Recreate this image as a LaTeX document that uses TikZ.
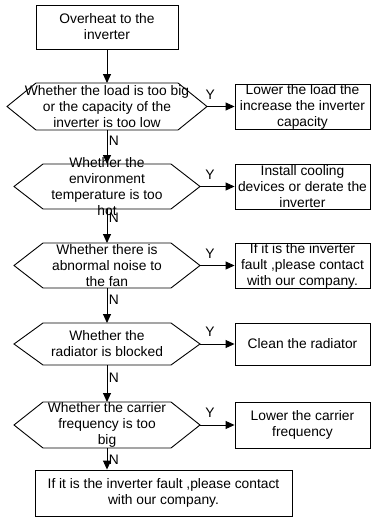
\documentclass[tikz,border=0pt]{standalone}
\usepackage{fontspec}
\setmainfont{Liberation Sans}
\usetikzlibrary{arrows.meta}

\tikzset{
  stepbox/.style={draw, line width=0.9pt, inner sep=0pt, align=center},
  ask/.style={inner sep=0pt, align=center},
  hexa/.style={draw, line width=0.9pt, line join=miter},
  flow/.style={draw, line width=0.9pt, -{Triangle[length=9pt,width=8pt]}},
  yes/.style={above=6pt, inner sep=1pt},
  no/.style={right, inner sep=1.5pt},
}

\begin{document}
\begin{tikzpicture}[x=1pt,y=-1pt,font=\fontsize{13.8}{16}\selectfont]
\useasboundingbox (0,0) rectangle (371,517);

\node[stepbox, minimum width=142pt, minimum height=44pt] (start) at (107,27) {Overheat to the\\inverter};

% the five questions
\foreach \n/\y/\h/\w in {d1/106.5/23.5/100, d2/186.5/22.5/93, d3/265.5/22.5/93, d4/344/21/93, d5/425/23/93}{
  \draw[hexa] (107-\w,\y) coordinate (\n w) -- (107-\w+29,\y-\h) -- (107+\w-29,\y-\h)
    -- (107+\w,\y) coordinate (\n e) -- (107+\w-29,\y+\h) -- (107-\w+29,\y+\h) -- cycle;
  \coordinate (\n n) at (107,\y-\h);
  \coordinate (\n s) at (107,\y+\h);
}
\node[ask] (q1) at (107,106.5) {Whether the load is too big\\or the capacity of the\\inverter is too low};
\node[ask] (q2) at (107,186.5) {Whether the\\environment\\temperature is too\\hot};
\node[ask] (q3) at (107,265.5) {Whether there is\\abnormal noise to\\the fan};
\node[ask] (q4) at (107,344) {Whether the\\radiator is blocked};
\node[ask] (q5) at (107,425) {Whether the carrier\\frequency is too\\big};

% what to do
\node[stepbox, minimum width=135pt, minimum height=45pt] (a1) at (302.5,106.5) {Lower the load the\\increase the inverter\\capacity};
\node[stepbox, minimum width=135pt, minimum height=45pt] (a2) at (302.5,186.5) {Install cooling\\devices or derate the\\inverter};
\node[stepbox, minimum width=135pt, minimum height=45pt] (a3) at (302.5,265.5) {If it is the inverter\\fault ,please contact\\with our company.};
\node[stepbox, minimum width=135pt, minimum height=42pt] (a4) at (302.5,344) {Clean the radiator};
\node[stepbox, minimum width=135pt, minimum height=46pt] (a5) at (302.5,425) {Lower the carrier\\frequency};

\node[stepbox, minimum width=257pt, minimum height=46pt] (fin) at (163.5,493) {If it is the inverter fault ,please contact\\with our company.};

\draw[flow] (start) -- (d1n);
\draw[flow] (d1s) -- node[no, pos=0.32] (n1) {N} (d2n);
\draw[flow] (d2s) -- node[no, pos=0.26] (n2) {N} (d3n);
\draw[flow] (d3s) -- node[no, pos=0.34] (n3) {N} (d4n);
\draw[flow] (d4s) -- node[no, pos=0.35] (n4) {N} (d5n);
\draw[flow] (d5s) -- node[no, pos=0.55] (n5) {N} (d5s |- fin.north);

\draw[flow] (d1e) -- node[yes, pos=0.12] (y1) {Y} (d1e -| a1.west);
\draw[flow] (d2e) -- node[yes, pos=0.29] (y2) {Y} (d2e -| a2.west);
\draw[flow] (d3e) -- node[yes, pos=0.29] (y3) {Y} (d3e -| a3.west);
\draw[flow] (d4e) -- node[yes, pos=0.29] (y4) {Y} (d4e -| a4.west);
\draw[flow] (d5e) -- node[yes, pos=0.29] (y5) {Y} (d5e -| a5.west);
\end{tikzpicture}
\end{document}
